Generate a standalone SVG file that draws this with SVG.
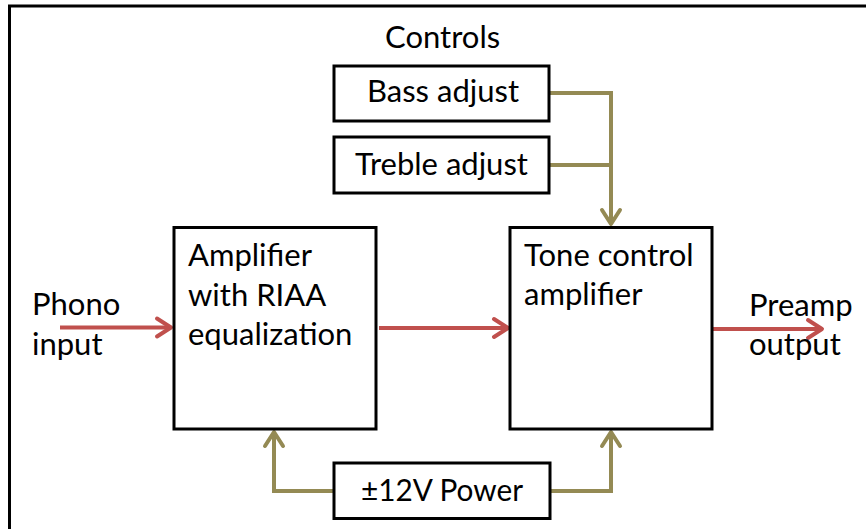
<svg xmlns="http://www.w3.org/2000/svg" width="866" height="529" viewBox="0 0 866 529">
<style>
.box{fill:#fff;stroke:#000;stroke-width:3}
.t{font-family:Lato,"Liberation Sans",sans-serif;font-size:31px;fill:#000}
.red{fill:none;stroke:#C0504D;stroke-width:4}
.olive{fill:none;stroke:#948A54;stroke-width:4}
</style>
<defs>
<marker id="ar" markerUnits="userSpaceOnUse" markerWidth="30" markerHeight="30" refX="0" refY="0" viewBox="-20 -15 30 30" orient="auto" overflow="visible">
<path d="M-14,-9 L0,0 L-14,9" fill="none" stroke="#C0504D" stroke-width="4" stroke-linecap="round" stroke-linejoin="round"/>
</marker>
<marker id="ao" markerUnits="userSpaceOnUse" markerWidth="30" markerHeight="30" refX="0" refY="0" viewBox="-20 -15 30 30" orient="auto" overflow="visible">
<path d="M-14,-9 L0,0 L-14,9" fill="none" stroke="#948A54" stroke-width="4" stroke-linecap="round" stroke-linejoin="round"/>
</marker>
</defs>
<rect width="866" height="529" fill="#fff"/>
<path d="M9.5,529 V6 H866" fill="none" stroke="#000" stroke-width="3"/>
<text class="t" x="385" y="48">Controls</text>
<g id="connectors">
<path class="red" d="M60,327.5 H171" marker-end="url(#ar)"/>
<path class="red" d="M379,328 H508" marker-end="url(#ar)"/>
<path class="red" d="M713,329 H822" marker-end="url(#ar)"/>
<path class="olive" d="M549,93 H611 V224" marker-end="url(#ao)"/>
<path class="olive" d="M549,165 H611"/>
<path class="olive" d="M334,491 H274 V432" marker-end="url(#ao)"/>
<path class="olive" d="M550,491 H611 V432" marker-end="url(#ao)"/>
</g>
<g id="bass">
<rect class="box" x="334" y="66" width="215" height="55"/>
<text class="t" x="367" y="102">Bass adjust</text>
</g>
<g id="treble">
<rect class="box" x="334" y="137" width="215" height="56"/>
<text class="t" x="355" y="175">Treble adjust</text>
</g>
<g id="riaa">
<rect class="box" x="174" y="227.5" width="202" height="201.5"/>
<text class="t" x="188" y="266">Amplifier</text>
<text class="t" x="188" y="306">with RIAA</text>
<text class="t" x="188" y="345">equalization</text>
</g>
<g id="tone">
<rect class="box" x="510" y="227.5" width="202" height="201.5"/>
<text class="t" x="524" y="266">Tone control</text>
<text class="t" x="524" y="305">amplifier</text>
</g>
<g id="power">
<rect class="box" x="334" y="463" width="216" height="55.5"/>
<text class="t" x="361" y="501" textLength="162" lengthAdjust="spacingAndGlyphs">±12V Power</text>
</g>
<g id="phono">
<text class="t" x="32" y="315">Phono</text>
<text class="t" x="32" y="355">input</text>
</g>
<g id="preamp">
<text class="t" x="749" y="316">Preamp</text>
<text class="t" x="749" y="355">output</text>
</g>
</svg>
